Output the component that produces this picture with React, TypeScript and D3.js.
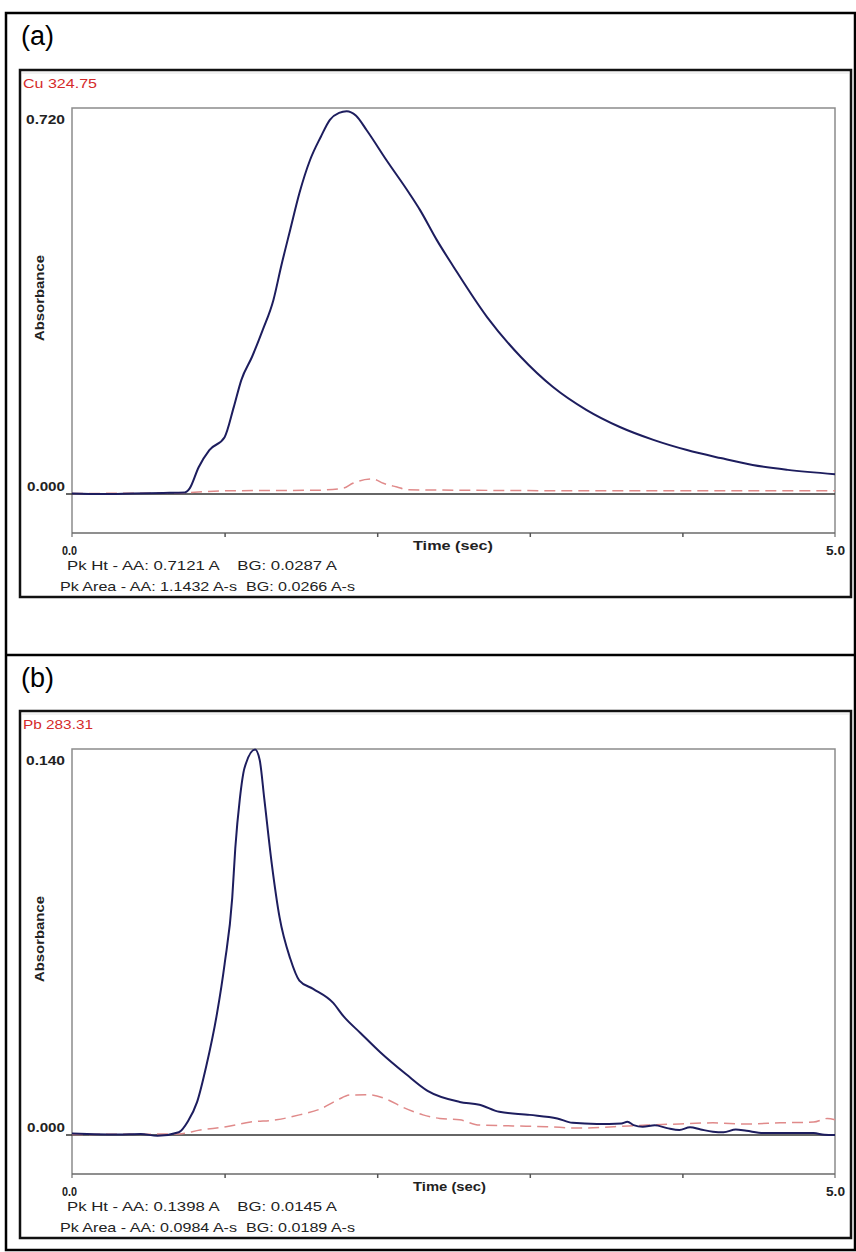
import React, { useRef, useEffect } from 'react'
import * as d3 from 'd3'

// Cu 324.75 - atomic absorbance (AA) and background (BG), time in sec
const cuTime = [0, 0.2, 0.4, 0.6, 0.74, 0.77, 0.83, 0.9, 1.0, 1.06, 1.11, 1.18, 1.25, 1.32, 1.37, 1.43, 1.49, 1.56, 1.63, 1.69, 1.75, 1.8, 1.86, 1.93, 2.06, 2.21, 2.28, 2.39, 2.5, 2.72, 2.94, 3.15, 3.37, 3.59, 3.81, 4.03, 4.25, 4.46, 4.69, 5.0]
const cuAbs = [0.001, 0.0, 0.001, 0.002, 0.003, 0.01, 0.05, 0.082, 0.106, 0.162, 0.213, 0.256, 0.306, 0.362, 0.424, 0.493, 0.561, 0.623, 0.666, 0.698, 0.711, 0.714, 0.706, 0.679, 0.623, 0.561, 0.53, 0.474, 0.424, 0.33, 0.256, 0.2, 0.157, 0.125, 0.101, 0.082, 0.067, 0.054, 0.045, 0.037]
const cuBgTime = [0, 0.7, 1.0, 1.6, 1.78, 1.84, 1.97, 2.04, 2.13, 2.2, 2.6, 3.5, 5.0]
const cuBgAbs = [0.001, 0.002, 0.006, 0.007, 0.011, 0.02, 0.028, 0.02, 0.013, 0.008, 0.007, 0.006, 0.006]

// Pb 283.31
const pbTime = [0, 0.15, 0.3, 0.45, 0.56, 0.7, 0.76, 0.82, 0.88, 0.95, 1.0, 1.05, 1.07, 1.1, 1.13, 1.2, 1.23, 1.26, 1.31, 1.36, 1.43, 1.49, 1.58, 1.71, 1.78, 1.89, 2.02, 2.19, 2.33, 2.54, 2.67, 2.8, 3.0, 3.18, 3.28, 3.44, 3.6, 3.64, 3.68, 3.74, 3.82, 3.9, 3.98, 4.05, 4.12, 4.2, 4.27, 4.35, 4.42, 4.53, 4.86, 4.93, 5.0]
const pbAbs = [0.0005, 0.0003, 0.0002, 0.0004, -0.0003, 0.001, 0.005, 0.012, 0.025, 0.044, 0.062, 0.086, 0.104, 0.122, 0.133, 0.1398, 0.136, 0.122, 0.098, 0.079, 0.064, 0.056, 0.053, 0.048, 0.043, 0.037, 0.03, 0.022, 0.016, 0.012, 0.011, 0.0084, 0.0073, 0.006, 0.0044, 0.004, 0.0042, 0.0048, 0.0036, 0.003, 0.0035, 0.0025, 0.0018, 0.0028, 0.002, 0.0012, 0.001, 0.002, 0.0015, 0.0007, 0.0007, 0.0001, 0.0]
const pbBgTime = [0, 0.7, 0.84, 1.01, 1.17, 1.34, 1.49, 1.63, 1.74, 1.82, 1.95, 2.06, 2.17, 2.3, 2.41, 2.54, 2.67, 2.89, 3.11, 3.33, 3.55, 3.77, 3.98, 4.2, 4.42, 4.64, 4.86, 4.95, 5.0]
const pbBgAbs = [0.0002, 0.0004, 0.0018, 0.003, 0.0047, 0.0055, 0.0073, 0.0095, 0.0127, 0.0145, 0.0146, 0.013, 0.01, 0.0073, 0.006, 0.0055, 0.0036, 0.0033, 0.003, 0.0025, 0.003, 0.0036, 0.004, 0.0044, 0.004, 0.0044, 0.0047, 0.006, 0.0055]

const xTicks = [1, 2, 3, 4]
const xDomain = [0, 5]
const xEndLabels = ['0.0', '5.0']
const panelLabels = ['(a)', '(b)']
const elementTitles = ['Cu 324.75', 'Pb 283.31']
const yMaxValues = [0.72, 0.14]
const yMaxLabels = ['0.720', '0.140']
const yZeroLabel = '0.000'
const peakHeightText = ['Pk Ht - AA: 0.7121 A    BG: 0.0287 A', 'Pk Ht - AA: 0.1398 A    BG: 0.0145 A']
const peakAreaText = ['Pk Area - AA: 1.1432 A-s  BG: 0.0266 A-s', 'Pk Area - AA: 0.0984 A-s  BG: 0.0189 A-s']

const FONT = '"Liberation Sans", Arial, sans-serif'

const App = () => {
  const ref = useRef<SVGSVGElement>(null)

  useEffect(() => {
    const svg = d3.select(ref.current)
    svg.selectAll('*').remove()

    const width = 856
    const height = 1252

    svg.append('rect')
      .attr('width', width)
      .attr('height', height)
      .attr('fill', 'white')

    // outer table
    const table = svg.append('g')
      .attr('stroke', 'black')
      .attr('stroke-width', 2.5)
      .attr('fill', 'none')
    table.append('rect')
      .attr('x', 6).attr('y', 13)
      .attr('width', 849).attr('height', 1237)
    table.append('line')
      .attr('x1', 6).attr('x2', 856)
      .attr('y1', 655).attr('y2', 655)

    const series = [
      { t: cuTime, a: cuAbs, bt: cuBgTime, ba: cuBgAbs },
      { t: pbTime, a: pbAbs, bt: pbBgTime, ba: pbBgAbs },
    ]
    const cellTops = [13, 655]
    const shotTops = [70, 711]

    const plotLeft = 72
    const plotRight = 835

    series.forEach((s, i) => {
      const T = shotTops[i]

      svg.append('text')
        .attr('x', 21)
        .attr('y', cellTops[i] + 32)
        .attr('font-family', FONT)
        .attr('font-size', 27)
        .text(panelLabels[i])

      const g = svg.append('g')

      // instrument screenshot frame
      g.append('rect')
        .attr('x', 20).attr('y', T)
        .attr('width', 831).attr('height', 527)
        .attr('fill', 'white')
        .attr('stroke', '#111')
        .attr('stroke-width', 2.5)
      g.append('line')
        .attr('x1', 22).attr('x2', 849)
        .attr('y1', T + 3).attr('y2', T + 3)
        .attr('stroke', '#e4e4e4')

      const xScale = d3.scaleLinear()
        .domain(xDomain)
        .range([plotLeft, plotRight])
      const yScale = d3.scaleLinear()
        .domain([0, yMaxValues[i]])
        .range([T + 424, T + 38])
      const axisY = T + 463

      // plot frame
      g.append('path')
        .attr('d', `M${plotLeft},${axisY + 4}V${T + 38}H${plotRight}V${axisY + 4}`)
        .attr('fill', 'none')
        .attr('stroke', '#8c8c8c')
        .attr('stroke-width', 1.5)
      g.append('line')
        .attr('x1', plotLeft).attr('x2', plotRight)
        .attr('y1', axisY).attr('y2', axisY)
        .attr('stroke', '#6a6a6a')
        .attr('stroke-width', 1.5)

      const xAxis = d3.axisBottom(xScale)
        .tickValues(xTicks)
        .tickSize(4)
        .tickFormat(() => '')
      const ax = g.append('g')
        .attr('transform', `translate(0,${axisY})`)
        .call(xAxis)
      ax.select('.domain').remove()
      ax.selectAll('line').attr('stroke', '#555').attr('stroke-width', 1.5)

      // zero line
      g.append('line')
        .attr('x1', plotLeft - 6).attr('x2', plotRight)
        .attr('y1', yScale(0)).attr('y2', yScale(0))
        .attr('stroke', '#333')
        .attr('stroke-width', 1.5)

      const lineGen = d3.line<number>()
        .x((_, j) => xScale(s.t[j]))
        .y(d => yScale(d))
        .curve(d3.curveMonotoneX)

      const bgGen = d3.line<number>()
        .x((_, j) => xScale(s.bt[j]))
        .y(d => yScale(d))
        .curve(d3.curveMonotoneX)

      g.append('path')
        .attr('d', bgGen(s.ba))
        .attr('fill', 'none')
        .attr('stroke', '#e08a8a')
        .attr('stroke-width', 1.5)
        .attr('stroke-dasharray', '11,6')

      g.append('path')
        .attr('d', lineGen(s.a))
        .attr('fill', 'none')
        .attr('stroke', '#1d1d5e')
        .attr('stroke-width', 2)

      const txt = (x: number, y: number, str: string, len: number, opts: any = {}) => {
        const el = g.append('text')
          .attr('x', x)
          .attr('y', y)
          .attr('font-family', FONT)
          .attr('font-size', opts.size || 13)
          .attr('fill', opts.fill || '#222')
          .attr('textLength', len)
          .attr('lengthAdjust', 'spacingAndGlyphs')
          .style('white-space', 'pre')
          .text(str)
        if (opts.bold) el.attr('font-weight', 'bold')
        return el
      }

      txt(23, T + 18, elementTitles[i], i === 0 ? 74 : 70, { fill: '#d42a2a' })
      txt(26, T + 54, yMaxLabels[i], 39, { bold: true })
      txt(27, T + 421, yZeroLabel, 38, { bold: true })
      txt(62, T + 485, xEndLabels[0], 15, { bold: true, size: 12 })
      txt(826, T + 485, xEndLabels[1], 19, { bold: true })
      txt(413, T + 480, 'Time (sec)', i === 0 ? 80 : 73, { bold: true })
      txt(67, T + 500, peakHeightText[i], 270)
      txt(60, T + 521, peakAreaText[i], 295)

      g.append('text')
        .attr('transform', `translate(44,${T + 228}) rotate(-90)`)
        .attr('text-anchor', 'middle')
        .attr('font-family', FONT)
        .attr('font-size', 12)
        .attr('font-weight', 'bold')
        .attr('fill', '#222')
        .attr('textLength', 86)
        .attr('lengthAdjust', 'spacingAndGlyphs')
        .text('Absorbance')
    })
  }, [])

  return (
    <div style={{ position: 'absolute', left: 0, top: 0 }}>
      <svg ref={ref} width={856} height={1252} />
    </div>
  )
}

export default App
